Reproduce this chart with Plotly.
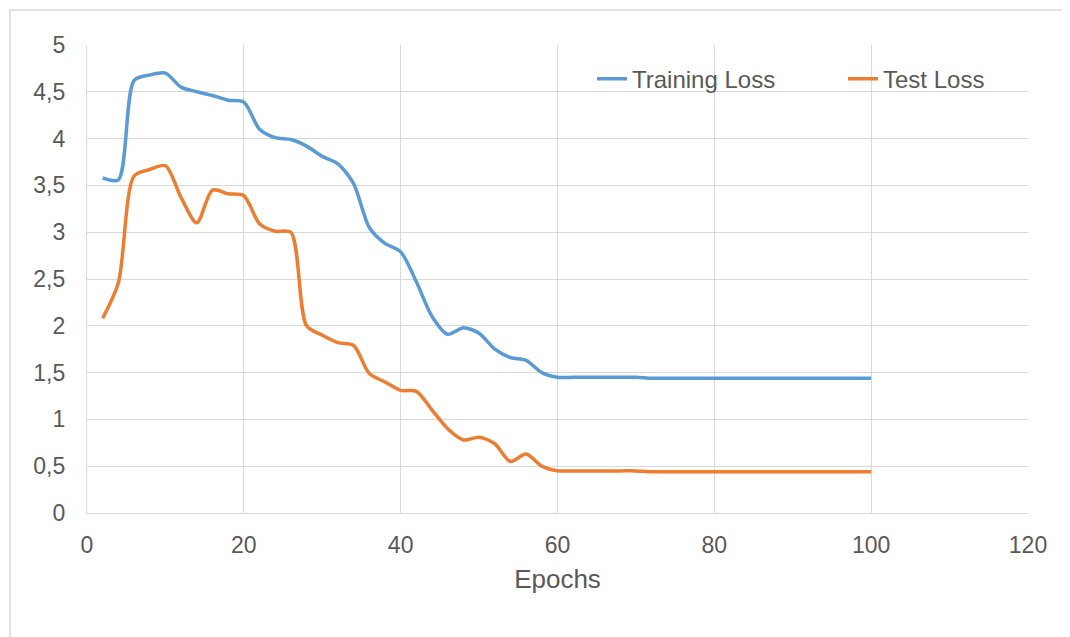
import plotly.graph_objects as go

epochs = list(range(2, 101, 2))

training_loss = [
    3.58, 3.56, 4.62, 4.68, 4.70, 4.55, 4.50, 4.46, 4.41, 4.39,
    4.10, 4.01, 3.99, 3.92, 3.81, 3.73, 3.52, 3.05, 2.88, 2.79,
    2.47, 2.10, 1.91, 1.98, 1.92, 1.75, 1.66, 1.63, 1.50, 1.45,
    1.45, 1.45, 1.45, 1.45, 1.45, 1.44, 1.44, 1.44, 1.44, 1.44,
    1.44, 1.44, 1.44, 1.44, 1.44, 1.44, 1.44, 1.44, 1.44, 1.44,
]

test_loss = [
    2.08, 2.46, 3.60, 3.67, 3.71, 3.37, 3.10, 3.45, 3.41, 3.39,
    3.09, 3.01, 3.00, 2.00, 1.90, 1.82, 1.79, 1.49, 1.40, 1.31,
    1.30, 1.10, 0.90, 0.78, 0.81, 0.74, 0.55, 0.63, 0.50, 0.45,
    0.45, 0.45, 0.45, 0.45, 0.45, 0.44, 0.44, 0.44, 0.44, 0.44,
    0.44, 0.44, 0.44, 0.44, 0.44, 0.44, 0.44, 0.44, 0.44, 0.44,
]

y_ticks = [0, 0.5, 1, 1.5, 2, 2.5, 3, 3.5, 4, 4.5, 5]
y_tick_text = ["0", "0,5", "1", "1,5", "2", "2,5", "3", "3,5", "4", "4,5", "5"]
x_ticks = [0, 20, 40, 60, 80, 100, 120]

TEXT = "#595959"
GRID = "#d9d9d9"
BLUE = "#5B9BD5"
ORANGE = "#ED7D31"
FONT = "Liberation Sans, Arial, sans-serif"

# page body has an 8px margin, so the figure is sized to fit the window
W, H = 1062, 629
ML, MT, MR, MB = 79, 37, 42, 124
PW = W - ML - MR
PH = H - MT - MB
LEG_Y = 0.927

fig = go.Figure()
fig.add_trace(go.Scatter(
    x=epochs, y=training_loss, name="Training Loss", mode="lines",
    line=dict(color=BLUE, width=3.5, shape="spline", smoothing=0.8),
    legend="legend",
))
fig.add_trace(go.Scatter(
    x=epochs, y=test_loss, name="Test Loss", mode="lines",
    line=dict(color=ORANGE, width=3.5, shape="spline", smoothing=0.8),
    legend="legend2",
))

legend_common = dict(
    orientation="h", xanchor="left", yanchor="middle", y=LEG_Y,
    font=dict(size=24, color=TEXT), bgcolor="rgba(0,0,0,0)",
)


def px_x(p):
    return (p - 87) / PW


fig.update_layout(
    width=W, height=H,
    margin=dict(l=ML, r=MR, t=MT, b=MB),
    paper_bgcolor="white", plot_bgcolor="white",
    font=dict(family=FONT, color=TEXT, size=23),
    showlegend=True,
    legend=dict(x=px_x(592), **legend_common),
    legend2=dict(x=px_x(843), **legend_common),
    xaxis=dict(
        range=[0, 120], tickvals=x_ticks, showgrid=True, gridcolor=GRID, gridwidth=1.3,
        zeroline=False, showline=True, linecolor=GRID, linewidth=1.3,
        ticks="", ticklabelstandoff=11, tickfont=dict(size=23, color=TEXT),
        title=dict(text="Epochs", font=dict(size=26, color=TEXT), standoff=13),
    ),
    yaxis=dict(
        range=[0, 5], tickvals=y_ticks, ticktext=y_tick_text, showgrid=True,
        gridcolor=GRID, gridwidth=1.3, zeroline=False, showline=True,
        linecolor=GRID, linewidth=1.3, ticks="", ticklabelstandoff=16,
        tickfont=dict(size=23, color=TEXT),
    ),
    shapes=[
        dict(
            type="rect", xref="paper", yref="paper",
            x0=(10 - 87) / PW, x1=1.2, y0=-0.4, y1=(513 - 10) / PH,
            line=dict(color=GRID, width=1.5), fillcolor="rgba(0,0,0,0)", layer="below",
        ),
    ],
)

fig.write_html("out.html")
